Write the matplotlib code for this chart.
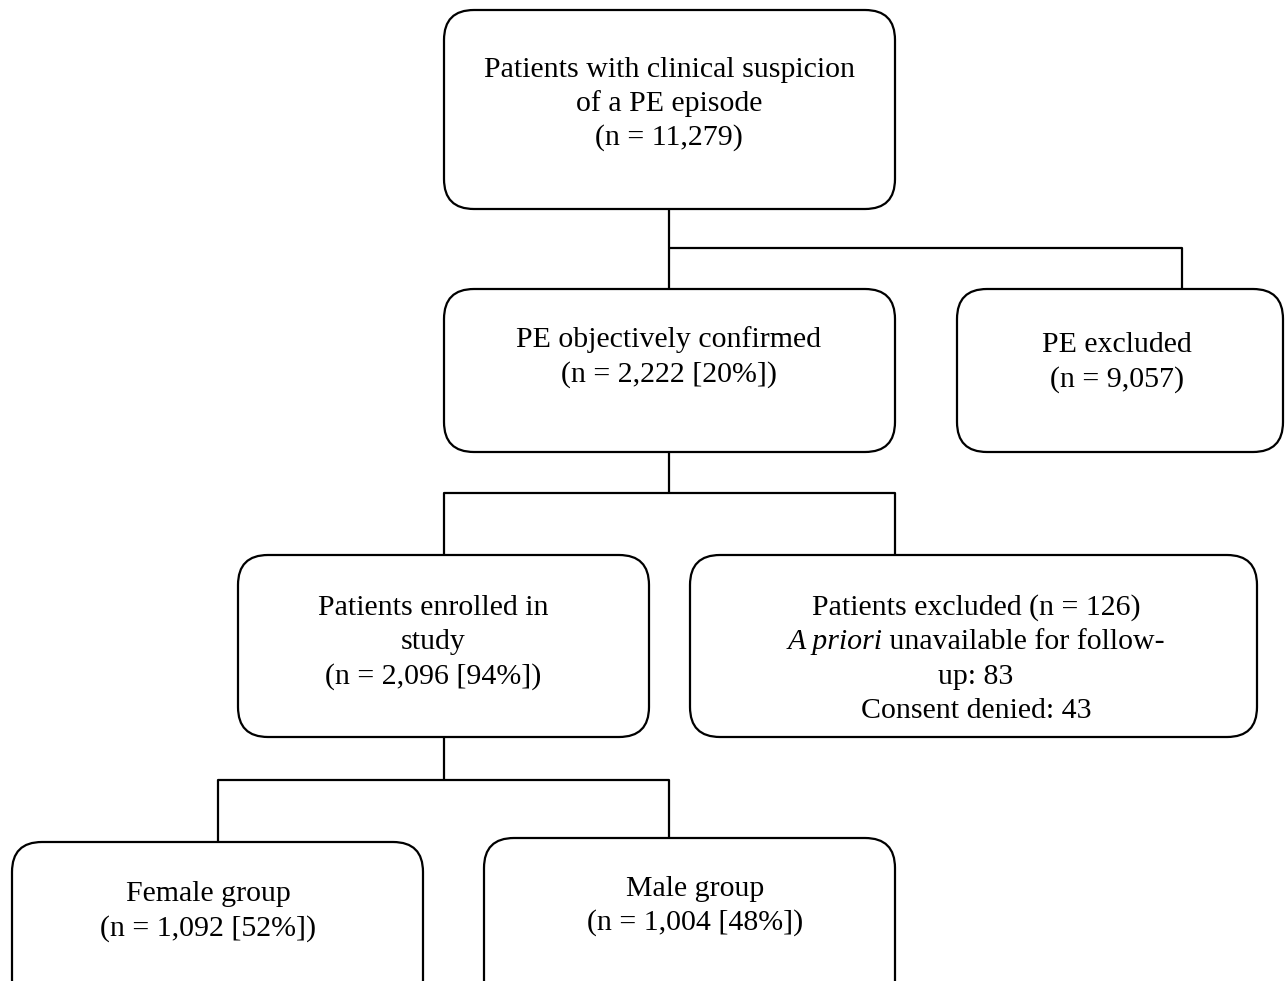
import matplotlib.pyplot as plt
from matplotlib.patches import FancyBboxPatch

plt.rcParams['font.family'] = ['Liberation Serif', 'DejaVu Serif']

# box texts
screened = ["Patients with clinical suspicion", "of a PE episode", "(n = 11,279)"]
confirmed = ["PE objectively confirmed", "(n = 2,222 [20%])"]
pe_excluded = ["PE excluded", "(n = 9,057)"]
enrolled = ["Patients enrolled in", "study", "(n = 2,096 [94%])"]
pt_excluded_head = "Patients excluded (n = 126)"
pt_excluded_italic = "A priori"
pt_excluded_rest = [" unavailable for follow-", "up: 83", "Consent denied: 43"]
female = ["Female group", "(n = 1,092 [52%])"]
male = ["Male group", "(n = 1,004 [48%])"]

W, H = 1287, 981
fig = plt.figure(figsize=(W / 100, H / 100), dpi=100)
ax = fig.add_axes([0, 0, 1, 1])
ax.set_xlim(0, W)
ax.set_ylim(H, 0)
ax.axis('off')

FS = 21.5
LW = 1.6
R = 30
DY = 2  # small vertical nudge for text centring


def box(x0, y0, x1, y1):
    p = FancyBboxPatch((x0 + R, y0 + R), (x1 - x0) - 2 * R, (y1 - y0) - 2 * R,
                       boxstyle=f"round,pad={R}", fc='white', ec='black', lw=LW,
                       clip_on=True)
    ax.add_patch(p)


def lines(cx, ys, texts):
    for y, t in zip(ys, texts):
        ax.text(cx, y + DY, t, ha='center', va='center', fontsize=FS)


def seg(xs, ys):
    ax.plot(xs, ys, color='black', lw=LW, solid_capstyle='butt')


# connectors
seg([669, 669], [209, 289])
seg([669, 1182, 1182], [248, 248, 289])
seg([669, 669], [452, 493])
seg([444, 444, 895, 895], [555, 493, 493, 555])
seg([444, 444], [737, 780])
seg([218, 218, 669, 669], [842, 780, 780, 838])

# boxes
box(444, 10, 895, 209)
lines(669, [68, 102, 136], screened)

box(444, 289, 895, 452)
lines(669, [338, 373], confirmed)

box(957, 289, 1283, 452)
lines(1117, [343, 378], pe_excluded)

box(238, 555, 649, 737)
lines(433, [606, 640, 675], enrolled)

box(690, 555, 1257, 737)
cx = 976
lines(cx, [606], [pt_excluded_head])
fig.canvas.draw()
r = fig.canvas.get_renderer()
t1 = ax.text(0, 640 + DY, pt_excluded_italic, ha='left', va='center', fontsize=FS, style='italic')
t2 = ax.text(0, 640 + DY, pt_excluded_rest[0], ha='left', va='center', fontsize=FS)
w1 = t1.get_window_extent(r).width
w2 = t2.get_window_extent(r).width
x_start = cx - (w1 + w2) / 2
t1.set_x(x_start)
t2.set_x(x_start + w1)
lines(cx, [675, 709], pt_excluded_rest[1:])

box(12, 842, 423, 1010)
lines(208, [892, 927], female)

box(484, 838, 895, 1010)
lines(695, [887, 921], male)

fig.savefig('out.png', dpi=100, facecolor='white')
